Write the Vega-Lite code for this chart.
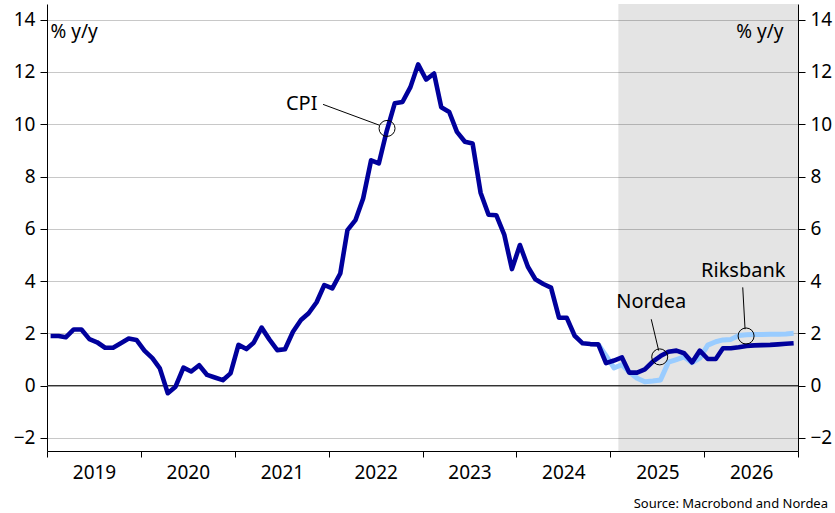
{
  "$schema": "https://vega.github.io/schema/vega-lite/v6.json",
  "width": 751,
  "height": 447,
  "autosize": {"type": "none"},
  "padding": {"left": 47, "top": 4, "right": 37, "bottom": 62},
  "background": "white",
  "config": {
    "font": "Noto Sans",
    "view": {"stroke": null},
    "axis": {"labelFont": "Noto Sans", "titleFont": "Noto Sans", "labelColor": "#000", "titleColor": "#000", "domainColor": "#000", "tickColor": "#000"}
  },
  "title": {"text": "Source: Macrobond and Nordea", "orient": "bottom", "anchor": "end", "frame": "group", "font": "Noto Sans", "fontSize": 13, "fontWeight": 400, "color": "#000", "dx": 30, "offset": 16},
  "datasets": {
    "cpi": [
      {"date": "2019-01-15", "value": 1.90}, {"date": "2019-02-15", "value": 1.90}, {"date": "2019-03-15", "value": 1.85}, {"date": "2019-04-15", "value": 2.15},
      {"date": "2019-05-15", "value": 2.15}, {"date": "2019-06-15", "value": 1.78}, {"date": "2019-07-15", "value": 1.66}, {"date": "2019-08-15", "value": 1.45},
      {"date": "2019-09-15", "value": 1.45}, {"date": "2019-10-15", "value": 1.62}, {"date": "2019-11-15", "value": 1.80}, {"date": "2019-12-15", "value": 1.75},
      {"date": "2020-01-15", "value": 1.34}, {"date": "2020-02-15", "value": 1.05}, {"date": "2020-03-15", "value": 0.66}, {"date": "2020-04-15", "value": -0.29},
      {"date": "2020-05-15", "value": -0.04}, {"date": "2020-06-15", "value": 0.69}, {"date": "2020-07-15", "value": 0.54}, {"date": "2020-08-15", "value": 0.78},
      {"date": "2020-09-15", "value": 0.41}, {"date": "2020-10-15", "value": 0.31}, {"date": "2020-11-15", "value": 0.21}, {"date": "2020-12-15", "value": 0.47},
      {"date": "2021-01-15", "value": 1.56}, {"date": "2021-02-15", "value": 1.40}, {"date": "2021-03-15", "value": 1.64}, {"date": "2021-04-15", "value": 2.22},
      {"date": "2021-05-15", "value": 1.77}, {"date": "2021-06-15", "value": 1.36}, {"date": "2021-07-15", "value": 1.39}, {"date": "2021-08-15", "value": 2.06},
      {"date": "2021-09-15", "value": 2.51}, {"date": "2021-10-15", "value": 2.77}, {"date": "2021-11-15", "value": 3.19}, {"date": "2021-12-15", "value": 3.85},
      {"date": "2022-01-15", "value": 3.72}, {"date": "2022-02-15", "value": 4.29}, {"date": "2022-03-15", "value": 5.95}, {"date": "2022-04-15", "value": 6.33},
      {"date": "2022-05-15", "value": 7.16}, {"date": "2022-06-15", "value": 8.62}, {"date": "2022-07-15", "value": 8.50}, {"date": "2022-08-15", "value": 9.75},
      {"date": "2022-09-15", "value": 10.80}, {"date": "2022-10-15", "value": 10.85}, {"date": "2022-11-15", "value": 11.42}, {"date": "2022-12-15", "value": 12.29},
      {"date": "2023-01-15", "value": 11.71}, {"date": "2023-02-15", "value": 11.94}, {"date": "2023-03-15", "value": 10.65}, {"date": "2023-04-15", "value": 10.47},
      {"date": "2023-05-15", "value": 9.71}, {"date": "2023-06-15", "value": 9.33}, {"date": "2023-07-15", "value": 9.26}, {"date": "2023-08-15", "value": 7.38},
      {"date": "2023-09-15", "value": 6.54}, {"date": "2023-10-15", "value": 6.52}, {"date": "2023-11-15", "value": 5.78}, {"date": "2023-12-15", "value": 4.46},
      {"date": "2024-01-15", "value": 5.38}, {"date": "2024-02-15", "value": 4.55}, {"date": "2024-03-15", "value": 4.07}, {"date": "2024-04-15", "value": 3.89},
      {"date": "2024-05-15", "value": 3.75}, {"date": "2024-06-15", "value": 2.60}, {"date": "2024-07-15", "value": 2.60}, {"date": "2024-08-15", "value": 1.91},
      {"date": "2024-09-15", "value": 1.62}, {"date": "2024-10-15", "value": 1.59}, {"date": "2024-11-15", "value": 1.58}, {"date": "2024-12-15", "value": 0.86},
      {"date": "2025-01-15", "value": 0.96}, {"date": "2025-02-15", "value": 1.08}, {"date": "2025-03-15", "value": 0.50}, {"date": "2025-04-15", "value": 0.50},
      {"date": "2025-05-15", "value": 0.62}, {"date": "2025-06-15", "value": 0.92}, {"date": "2025-07-15", "value": 1.13}, {"date": "2025-08-15", "value": 1.30},
      {"date": "2025-09-15", "value": 1.34}, {"date": "2025-10-15", "value": 1.24}, {"date": "2025-11-15", "value": 0.89}, {"date": "2025-12-15", "value": 1.34},
      {"date": "2026-01-15", "value": 1.02}, {"date": "2026-02-15", "value": 1.02}, {"date": "2026-03-15", "value": 1.43}, {"date": "2026-04-15", "value": 1.43},
      {"date": "2026-05-15", "value": 1.47}, {"date": "2026-06-15", "value": 1.52}, {"date": "2026-07-15", "value": 1.54}, {"date": "2026-08-15", "value": 1.55},
      {"date": "2026-09-15", "value": 1.56}, {"date": "2026-10-15", "value": 1.58}, {"date": "2026-11-15", "value": 1.60}, {"date": "2026-12-15", "value": 1.62}
    ],
    "rb": [
      {"date": "2024-11-15", "value": 1.58}, {"date": "2024-12-15", "value": 1.15},
      {"date": "2025-01-15", "value": 0.68}, {"date": "2025-02-15", "value": 0.80}, {"date": "2025-03-15", "value": 0.52}, {"date": "2025-04-15", "value": 0.28},
      {"date": "2025-05-15", "value": 0.15}, {"date": "2025-06-15", "value": 0.18}, {"date": "2025-07-15", "value": 0.22}, {"date": "2025-08-15", "value": 0.90},
      {"date": "2025-09-15", "value": 1.00}, {"date": "2025-10-15", "value": 1.10}, {"date": "2025-11-15", "value": 0.88}, {"date": "2025-12-15", "value": 1.05},
      {"date": "2026-01-15", "value": 1.55}, {"date": "2026-02-15", "value": 1.68}, {"date": "2026-03-15", "value": 1.75}, {"date": "2026-04-15", "value": 1.77},
      {"date": "2026-05-15", "value": 1.92}, {"date": "2026-06-15", "value": 1.95}, {"date": "2026-07-15", "value": 1.96}, {"date": "2026-08-15", "value": 1.96},
      {"date": "2026-09-15", "value": 1.97}, {"date": "2026-10-15", "value": 1.97}, {"date": "2026-11-15", "value": 1.98}, {"date": "2026-12-15", "value": 2.00}
    ],
    "shade": [{"start": "2025-02-01", "end": "2027-01-01"}],
    "zero": [{"value": 0}],
    "leaders": [
      {"date": "2021-12-10", "value": 10.76, "date2": "2022-07-18", "value2": 9.96},
      {"date": "2025-06-09", "value": 2.54, "date2": "2025-07-08", "value2": 1.34},
      {"date": "2026-05-31", "value": 3.76, "date2": "2026-06-09", "value2": 2.16}
    ],
    "circles": [
      {"date": "2022-08-16", "value": 9.84},
      {"date": "2025-07-12", "value": 1.10},
      {"date": "2026-06-13", "value": 1.90}
    ],
    "labels": [
      {"date": "2021-09-18", "value": 10.76, "label": "CPI"},
      {"date": "2025-06-09", "value": 3.21, "label": "Nordea"},
      {"date": "2026-06-02", "value": 4.39, "label": "Riksbank"}
    ]
  },
  "resolve": {"axis": {"y": "independent"}},
  "layer": [
    {
      "data": {"name": "shade"},
      "mark": {"type": "rect", "color": "#000", "opacity": 0.106},
      "encoding": {
        "x": {"field": "start", "type": "temporal", "scale": {"type": "utc", "domain": ["2019-01-01", "2027-01-01"]},
          "axis": {"values": [{"year": 2019, "month": 1, "date": 1, "utc": true}, {"year": 2020, "month": 1, "date": 1, "utc": true}, {"year": 2021, "month": 1, "date": 1, "utc": true}, {"year": 2022, "month": 1, "date": 1, "utc": true}, {"year": 2023, "month": 1, "date": 1, "utc": true}, {"year": 2024, "month": 1, "date": 1, "utc": true}, {"year": 2025, "month": 1, "date": 1, "utc": true}, {"year": 2026, "month": 1, "date": 1, "utc": true}, {"year": 2027, "month": 1, "date": 1, "utc": true}],
            "labelExpr": "utcyear(datum.value) == 2027 ? '' : utcFormat(datum.value, '%Y')",
            "labelOffset": 47, "labelAlign": "center", "labelFontSize": 19, "labelPadding": 6, "tickSize": 6, "grid": false, "title": null, "domainWidth": 1, "labelFlush": false, "labelOverlap": false}},
        "x2": {"field": "end"}
      }
    },
    {
      "data": {"name": "zero"},
      "mark": {"type": "rule", "color": "#333", "strokeWidth": 1.3},
      "encoding": {
        "y": {"field": "value", "type": "quantitative", "scale": {"domain": [-2.5, 14.6], "nice": false, "zero": false},
          "axis": {"orient": "right", "values": [-2, 0, 2, 4, 6, 8, 10, 12, 14], "grid": false, "labelFontSize": 19, "tickSize": 7, "labelPadding": 5,
            "title": "% y/y", "titleAngle": 0, "titleAlign": "right", "titleBaseline": "middle", "titleX": -15, "titleY": 27, "titleFontSize": 19, "titleFontWeight": "normal"}}
      }
    },
    {
      "data": {"name": "rb"},
      "mark": {"type": "line", "color": "#99ccff", "strokeWidth": 5, "strokeJoin": "round"},
      "encoding": {
        "x": {"field": "date", "type": "temporal"},
        "y": {"field": "value", "type": "quantitative", "scale": {"domain": [-2.5, 14.6], "nice": false, "zero": false}, "axis": null}
      }
    },
    {
      "data": {"name": "cpi"},
      "mark": {"type": "line", "color": "#00009c", "strokeWidth": 4.6, "strokeJoin": "round"},
      "encoding": {
        "x": {"field": "date", "type": "temporal"},
        "y": {"field": "value", "type": "quantitative", "scale": {"domain": [-2.5, 14.6], "nice": false, "zero": false},
          "axis": {"orient": "left", "values": [-2, 0, 2, 4, 6, 8, 10, 12, 14], "grid": true, "gridColor": "#c8c8c8", "gridWidth": 1, "labelFontSize": 19, "tickSize": 7, "labelPadding": 5,
            "title": "% y/y", "titleAngle": 0, "titleAlign": "left", "titleBaseline": "middle", "titleX": 3, "titleY": 27, "titleFontSize": 19, "titleFontWeight": "normal"}}
      }
    },
    {
      "data": {"name": "leaders"},
      "mark": {"type": "rule", "color": "#000", "strokeWidth": 1},
      "encoding": {
        "x": {"field": "date", "type": "temporal"},
        "x2": {"field": "date2"},
        "y": {"field": "value", "type": "quantitative", "scale": {"domain": [-2.5, 14.6], "nice": false, "zero": false}, "axis": null},
        "y2": {"field": "value2"}
      }
    },
    {
      "data": {"name": "circles"},
      "mark": {"type": "point", "shape": "circle", "filled": false, "size": 256, "color": "#000", "strokeWidth": 1, "opacity": 1},
      "encoding": {
        "x": {"field": "date", "type": "temporal"},
        "y": {"field": "value", "type": "quantitative", "scale": {"domain": [-2.5, 14.6], "nice": false, "zero": false}, "axis": null}
      }
    },
    {
      "data": {"name": "labels"},
      "mark": {"type": "text", "fontSize": 20, "color": "#000", "align": "center", "baseline": "middle"},
      "encoding": {
        "x": {"field": "date", "type": "temporal"},
        "y": {"field": "value", "type": "quantitative", "scale": {"domain": [-2.5, 14.6], "nice": false, "zero": false}, "axis": null},
        "text": {"field": "label"}
      }
    }
  ]
}
